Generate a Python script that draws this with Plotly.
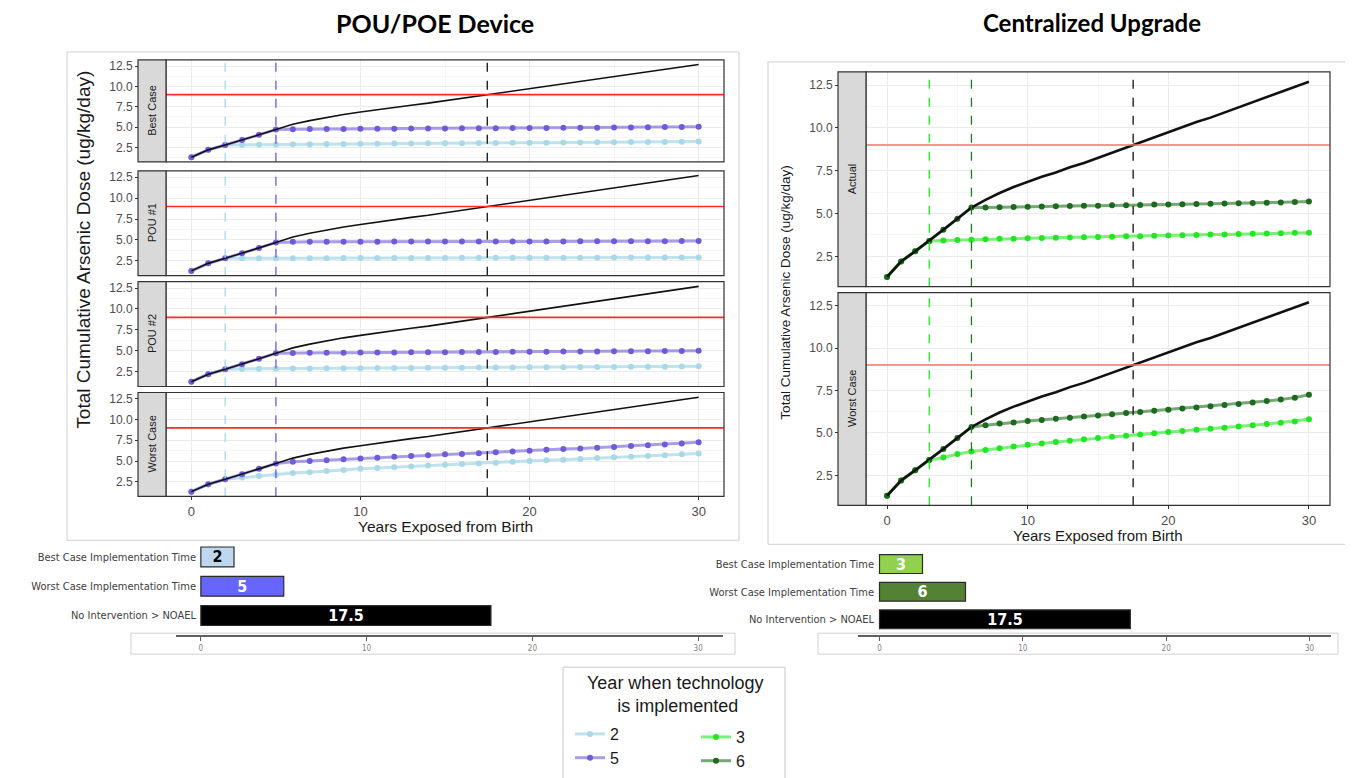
import plotly.graph_objects as go

# page body has an 8px margin: figure is sized so that it fills the 1353x778 window
PAGE_W, PAGE_H, BODY = 1353, 778, 8
W, H = PAGE_W - BODY, PAGE_H - BODY

# ---------------- data ----------------
years = list(range(31))
baseline = [1.30, 2.20, 2.80, 3.40, 4.05, 4.70, 5.35, 5.80, 6.20, 6.55, 6.85,
            7.15, 7.40, 7.70, 7.95, 8.25, 8.55, 8.85, 9.15, 9.45, 9.75,
            10.05, 10.35, 10.60, 10.90, 11.20, 11.50, 11.80, 12.10, 12.40, 12.70]
NOAEL = 9.0
noael_year = 17.5

pou_facets = ["Best Case", "POU #1", "POU #2", "Worst Case"]
pou_years = [2, 5]
# values after implementation (year 3..30 for "2", year 6..30 for "5")
pou_best_2 = [2.82, 2.85, 2.86, 2.88, 2.90, 2.91, 2.93, 2.94, 2.95, 2.97, 2.98, 3.00, 3.01, 3.02,
              3.04, 3.05, 3.06, 3.08, 3.09, 3.10, 3.12, 3.13, 3.14, 3.16, 3.17, 3.18, 3.20, 3.22]
pou_best_5 = [4.75, 4.76, 4.77, 4.78, 4.79, 4.80, 4.81, 4.82, 4.83, 4.84, 4.85, 4.86, 4.87,
              4.88, 4.89, 4.90, 4.91, 4.92, 4.93, 4.94, 4.96, 4.98, 5.00, 5.02, 5.05]
pou_p1_2 = [2.80, 2.80, 2.81, 2.81, 2.82, 2.82, 2.83, 2.83, 2.84, 2.84, 2.85, 2.85, 2.85, 2.86,
            2.86, 2.86, 2.87, 2.87, 2.87, 2.88, 2.88, 2.88, 2.89, 2.89, 2.89, 2.90, 2.90, 2.90]
pou_p1_5 = [4.78, 4.78, 4.78, 4.79, 4.79, 4.79, 4.80, 4.80, 4.80, 4.80, 4.81, 4.81, 4.81,
            4.81, 4.82, 4.82, 4.82, 4.83, 4.83, 4.83, 4.84, 4.84, 4.85, 4.86, 4.87]
pou_p2_2 = [2.85, 2.86, 2.87, 2.88, 2.89, 2.90, 2.91, 2.92, 2.93, 2.94, 2.95, 2.96, 2.97, 2.98,
            2.99, 3.00, 3.01, 3.02, 3.03, 3.04, 3.05, 3.06, 3.07, 3.08, 3.09, 3.10, 3.12, 3.15]
pou_p2_5 = [4.75, 4.76, 4.77, 4.78, 4.79, 4.80, 4.81, 4.82, 4.83, 4.84, 4.85, 4.86, 4.87,
            4.88, 4.89, 4.90, 4.91, 4.92, 4.93, 4.94, 4.95, 4.96, 4.97, 4.98, 5.00]
pou_worst_2 = [3.00, 3.20, 3.35, 3.55, 3.65, 3.80, 3.90, 4.05, 4.15, 4.25, 4.35, 4.45, 4.55, 4.65,
               4.70, 4.80, 4.90, 5.00, 5.10, 5.15, 5.25, 5.35, 5.45, 5.50, 5.60, 5.70, 5.80, 5.90]
pou_worst_5 = [4.90, 5.00, 5.10, 5.20, 5.30, 5.40, 5.50, 5.60, 5.70, 5.80, 5.85, 5.95, 6.05,
               6.15, 6.25, 6.35, 6.45, 6.50, 6.60, 6.70, 6.80, 6.90, 7.00, 7.10, 7.25]

cent_facets = ["Actual", "Worst Case"]
cent_years = [3, 6]
# values after implementation (year 4..30 for "3", year 7..30 for "6")
cent_actual_3 = [3.42, 3.45, 3.47, 3.50, 3.52, 3.53, 3.55, 3.57, 3.58, 3.60, 3.62, 3.63, 3.65, 3.67,
                 3.68, 3.70, 3.72, 3.73, 3.75, 3.77, 3.78, 3.80, 3.82, 3.83, 3.85, 3.87, 3.88]
cent_actual_6 = [5.35, 5.37, 5.38, 5.40, 5.41, 5.42, 5.44, 5.45, 5.46, 5.48, 5.49, 5.50,
                 5.52, 5.53, 5.54, 5.56, 5.57, 5.58, 5.60, 5.62, 5.63, 5.65, 5.67, 5.70]
cent_worst_3 = [3.55, 3.75, 3.90, 4.00, 4.10, 4.20, 4.30, 4.38, 4.46, 4.54, 4.62, 4.70, 4.77, 4.84,
                4.91, 4.98, 5.05, 5.11, 5.18, 5.25, 5.31, 5.38, 5.45, 5.52, 5.60, 5.68, 5.80]
cent_worst_6 = [5.45, 5.55, 5.62, 5.70, 5.76, 5.83, 5.90, 5.97, 6.03, 6.10, 6.17, 6.24,
                6.30, 6.37, 6.44, 6.50, 6.57, 6.64, 6.70, 6.80, 6.88, 6.97, 7.08, 7.25]

bar_categories = ["Best Case Implementation Time", "Worst Case Implementation Time",
                  "No Intervention > NOAEL"]
pou_bar_values = [2, 5, 17.5]
cent_bar_values = [3, 6, 17.5]

x_ticks = [0, 10, 20, 30]

# ---------------- style ----------------
FONT = "Liberation Sans, Arial, sans-serif"
NARROW = "Liberation Sans Narrow, DejaVu Sans Condensed, Arial Narrow, sans-serif"
TITLE_FONT = "Lato, Open Sans, sans-serif"
C2, C5 = "#A9D8E6", "#6F5BD8"
C3, C6 = "#22E622", "#1C6B1C"
LINE_A = {"#A9D8E6": "rgba(169,216,230,0.75)", "#6F5BD8": "rgba(111,91,216,0.6)",
          "#22E622": "rgba(34,230,34,0.6)", "#1C6B1C": "rgba(28,107,28,0.6)"}
GRID, MINOR = "#EBEBEB", "#F5F5F5"


def px(x):
    return (x - BODY) / W


def py(y):
    return 1 - (y - BODY) / H


def suf(n):
    return "" if n == 1 else str(n)


fig = go.Figure()
shapes, annotations = [], []
layout_axes = {}

legend_done = set()


def ann(text, x, y, size, color="#1A1A1A", family=FONT, angle=0):
    annotations.append(dict(text=text, x=px(x), y=py(y), xref="paper", yref="paper",
                            xanchor="center", yanchor="middle", showarrow=False,
                            textangle=angle, align="center",
                            font=dict(size=size, color=color, family=family)))


def add_series(n, xs, ys, color, name, legend):
    show = name not in legend_done
    legend_done.add(name)
    fig.add_trace(go.Scatter(
        x=xs, y=ys, mode="lines+markers", name=name,
        line=dict(color=LINE_A[color], width=3),
        marker=dict(color=color, size=6),
        xaxis="x" + suf(n), yaxis="y" + suf(n),
        showlegend=show, legend=legend, legendgroup=name, hoverinfo="skip"))


def facet(n, x0, x1, strip_x0, top, bottom, label, tickfs, strip_fs, show_x,
          red_color, vlines, vcolors):
    layout_axes["xaxis" + suf(n)] = dict(
        domain=[px(x0), px(x1)], range=[-1.5, 31.5], anchor="y" + suf(n),
        showline=False, zeroline=False, showgrid=True, gridcolor=GRID, gridwidth=1,
        tickvals=x_ticks,
        minor=dict(dtick=5, tick0=0, showgrid=True, gridcolor=MINOR, gridwidth=0.6),
        ticks="outside" if show_x else "", ticklen=3, tickcolor="#333333",
        showticklabels=show_x, tickfont=dict(size=tickfs + 1, color="#4D4D4D", family=FONT))
    layout_axes["yaxis" + suf(n)] = dict(
        domain=[py(bottom), py(top)], range=[0.73, 13.27], anchor="free",
        position=px(strip_x0), showline=False, zeroline=False, showgrid=True,
        gridcolor=GRID, gridwidth=1, dtick=2.5, tick0=0, tickformat=".1f",
        minor=dict(dtick=1.25, tick0=0, showgrid=True, gridcolor=MINOR, gridwidth=0.6),
        ticks="outside", ticklen=3, tickcolor="#333333",
        tickfont=dict(size=tickfs, color="#4D4D4D", family=FONT))
    shapes.append(dict(type="line", xref="x" + suf(n) + " domain", x0=0, x1=1,
                       yref="y" + suf(n), y0=NOAEL, y1=NOAEL,
                       line=dict(color=red_color, width=1.6)))
    for v, c in zip(vlines, vcolors):
        shapes.append(dict(type="line", xref="x" + suf(n), x0=v, x1=v,
                           yref="y" + suf(n) + " domain", y0=0, y1=1,
                           line=dict(color=c, width=1.3, dash="dash")))
    shapes.append(dict(type="line", xref="x" + suf(n), x0=noael_year, x1=noael_year,
                       yref="y" + suf(n) + " domain", y0=0, y1=1,
                       line=dict(color="#111111", width=1.3, dash="dash")))
    shapes.append(dict(type="rect", xref="paper", yref="paper", x0=px(x0), x1=px(x1),
                       y0=py(bottom), y1=py(top), line=dict(color="#333333", width=1.2)))
    shapes.append(dict(type="rect", xref="paper", yref="paper", x0=px(strip_x0), x1=px(x0),
                       y0=py(bottom), y1=py(top), fillcolor="#D9D9D9",
                       line=dict(color="#333333", width=1.2)))
    ann(label, (strip_x0 + x0) / 2, (top + bottom) / 2, strip_fs, angle=-90)


# ---------------- left: POU/POE ----------------
pou_series = [(pou_best_2, pou_best_5), (pou_p1_2, pou_p1_5), (pou_p2_2, pou_p2_5),
              (pou_worst_2, pou_worst_5)]
left_rows = [(60, 162), (171, 276), (282, 387), (393, 497)]
for i, (lab, (s2, s5), (t, b)) in enumerate(zip(pou_facets, pou_series, left_rows)):
    n = i + 1
    facet(n, 166, 724, 138, t, b, lab, 12, 11, n == 4, "#FF2A2A", pou_years, [C2, C5])
    y2 = baseline[:pou_years[0] + 1] + s2
    y5 = baseline[:pou_years[1] + 1] + s5
    add_series(n, years[:len(y2)], y2, C2, str(pou_years[0]), "legend")
    add_series(n, years[:len(y5)], y5, C5, str(pou_years[1]), "legend")
    fig.add_trace(go.Scatter(x=years, y=baseline, mode="lines",
                             line=dict(color="#111111", width=1.6),
                             xaxis="x" + suf(n), yaxis="y" + suf(n),
                             showlegend=False, hoverinfo="skip"))

# ---------------- right: centralized ----------------
cent_series = [(cent_actual_3, cent_actual_6), (cent_worst_3, cent_worst_6)]
right_rows = [(72, 287), (293, 506)]
for i, (lab, (s3, s6), (t, b)) in enumerate(zip(cent_facets, cent_series, right_rows)):
    n = i + 5
    facet(n, 866, 1330, 838, t, b, lab, 12, 11, n == 6, "#FF6F6F", cent_years, [C3, "#1E7A1E"])
    y3 = baseline[:cent_years[0] + 1] + s3
    y6 = baseline[:cent_years[1] + 1] + s6
    add_series(n, years[:len(y3)], y3, C3, str(cent_years[0]), "legend2")
    add_series(n, years[:len(y6)], y6, C6, str(cent_years[1]), "legend2")
    fig.add_trace(go.Scatter(x=years, y=baseline, mode="lines",
                             line=dict(color="#111111", width=2.6),
                             xaxis="x" + suf(n), yaxis="y" + suf(n),
                             showlegend=False, hoverinfo="skip"))


# ---------------- bar charts ----------------
def bar_chart(n, values, colors, tcolors, xd0, xd1, yd_top, yd_bot, ypos, box):
    fig.add_trace(go.Bar(
        x=values, y=bar_categories, orientation="h", width=0.68,
        marker=dict(color=colors, line=dict(color="#2B2B2B", width=1.2)),
        text=[f"{v:g}" for v in values], textposition="inside", insidetextanchor="middle",
        textfont=dict(color=tcolors, size=16, family=NARROW, weight="bold"),
        textangle=0, xaxis="x" + suf(n), yaxis="y" + suf(n), showlegend=False,
        hoverinfo="skip"))
    layout_axes["xaxis" + suf(n)] = dict(
        domain=[px(xd0), px(xd1)], range=[-1.5, 31.5], anchor="free", position=py(637),
        showline=True, linecolor="#606060", linewidth=1.5, ticks="outside", ticklen=4,
        tickcolor="#606060", tickvals=x_ticks, showgrid=False, zeroline=False,
        tickfont=dict(size=8, color="#7F7F7F", family=NARROW))
    layout_axes["yaxis" + suf(n)] = dict(
        domain=[py(yd_bot), py(yd_top)], type="category", categoryorder="array",
        categoryarray=bar_categories[::-1], anchor="free", position=px(ypos),
        showline=False, showgrid=False, zeroline=False, ticks="",
        tickfont=dict(size=11, color="#404040", family=NARROW))
    shapes.append(dict(type="rect", xref="paper", yref="paper", layer="below",
                       x0=px(box[0]), x1=px(box[1]), y0=py(655), y1=py(634),
                       line=dict(color="#D0D0D0", width=1)))


bar_chart(7, pou_bar_values, ["#BDD7EE", "#6666FF", "#000000"], ["#000000", "#FFFFFF", "#FFFFFF"],
          176, 723, 543, 631, 196, (131, 735))
bar_chart(8, cent_bar_values, ["#92D050", "#548235", "#000000"], ["#FFFFFF", "#FFFFFF", "#FFFFFF"],
          858, 1331, 551, 634, 874, (818, 1338))

# ---------------- frames, titles ----------------
for (bx0, bx1, by0, by1, col) in [(67, 739, 52, 541, "#D0D0D0"), (768, 1347, 62, 545, "#D0D0D0"),
                                  (563, 785, 668, 800, "#C8C8C8")]:
    shapes.append(dict(type="rect", xref="paper", yref="paper", layer="below",
                       x0=px(bx0), x1=px(bx1), y0=py(by1), y1=py(by0),
                       line=dict(color=col, width=1)))

ann("<b>POU/POE Device</b>", 435, 23, 25, "#000000", TITLE_FONT)
ann("<b>Centralized Upgrade</b>", 1092, 23, 24, "#000000", TITLE_FONT)
ann("Total Cumulative Arsenic Dose (ug/kg/day)", 84, 250, 19, angle=-90)
ann("Total Cumulative Arsenic Dose (ug/kg/day)", 786, 293, 13.5, angle=-90)
ann("Years Exposed from Birth", 445, 527, 15.5)
ann("Years Exposed from Birth", 1098, 536, 15)
ann("Year when technology<br> is implemented", 675, 695, 18)

fig.update_layout(
    width=W, height=H, margin=dict(l=0, r=0, t=0, b=0), autosize=False,
    paper_bgcolor="white", plot_bgcolor="white", bargap=0.3,
    uniformtext=dict(minsize=16, mode="show"),
    shapes=shapes, annotations=annotations, showlegend=True,
    legend=dict(x=px(570), y=py(717), xanchor="left", yanchor="top", bgcolor="rgba(0,0,0,0)",
                font=dict(size=16, color="#1A1A1A", family=FONT), tracegroupgap=11,
                traceorder="normal"),
    legend2=dict(x=px(696), y=py(721), xanchor="left", yanchor="top", bgcolor="rgba(0,0,0,0)",
                 font=dict(size=16, color="#1A1A1A", family=FONT), tracegroupgap=11,
                 traceorder="normal"),
    **layout_axes,
)

fig.write_html("out.html", config={"displayModeBar": False})
